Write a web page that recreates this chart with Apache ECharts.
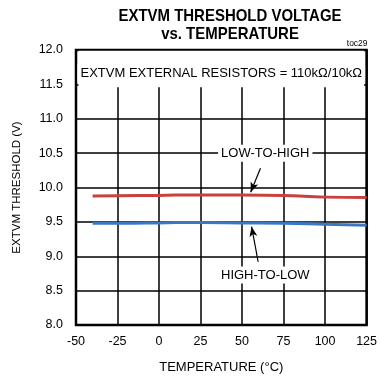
<!DOCTYPE html>
<html><head><meta charset="utf-8">
<script src="https://cdn.jsdelivr.net/npm/echarts@6/dist/echarts.min.js"></script>
<style>html,body{margin:0;padding:0;background:#fff}#c{width:380px;height:381px}</style>
</head><body><div id="c"></div>
<script>
const temps = [-40, -25, 0, 10, 25, 50, 75, 100, 125];
const lowToHigh = [9.875, 9.88, 9.885, 9.89, 9.89, 9.89, 9.885, 9.86, 9.855];
const highToLow = [9.48, 9.48, 9.485, 9.49, 9.49, 9.485, 9.48, 9.465, 9.45];
const xTicks = [-50, -25, 0, 25, 50, 75, 100, 125];
const yTicks = [8.0, 8.5, 9.0, 9.5, 10.0, 10.5, 11.0, 11.5, 12.0];
const titleLines = ['EXTVM THRESHOLD VOLTAGE', 'vs. TEMPERATURE'];

const FONT = '"Liberation Sans", Arial, sans-serif';
const chart = echarts.init(document.getElementById('c'), null, {renderer: 'canvas'});
const pair = (xs, ys) => xs.map((x, i) => [x, ys[i]]);

chart.setOption({
  animation: false,
  grid: {left: 76, right: 9, top: 50, bottom: 56, show: true, borderColor: '#000', borderWidth: 2.5, backgroundColor: 'transparent'},
  xAxis: {
    type: 'value', min: -50, max: 125, interval: 25,
    name: 'TEMPERATURE (°C)', nameLocation: 'middle', nameGap: 36,
    nameTextStyle: {fontFamily: FONT, fontSize: 13, color: '#000'},
    axisLine: {show: false}, axisTick: {show: false},
    axisLabel: {fontFamily: FONT, fontSize: 12.5, color: '#000', margin: 10},
    splitLine: {show: true, lineStyle: {color: '#000', width: 1.5}}
  },
  yAxis: {
    type: 'value', min: 8, max: 12, interval: 0.5,
    name: 'EXTVM THRESHOLD (V)', nameLocation: 'middle', nameGap: 53,
    nameTextStyle: {fontFamily: FONT, fontSize: 11.5, color: '#000'},
    axisLine: {show: false}, axisTick: {show: false},
    axisLabel: {fontFamily: FONT, fontSize: 12.5, color: '#000', margin: 13, formatter: v => v.toFixed(1)},
    splitLine: {show: true, lineStyle: {color: '#000', width: 1.5}}
  },
  series: [
    {
      type: 'line', name: 'LOW-TO-HIGH', data: pair(temps, lowToHigh), smooth: true, showSymbol: false,
      lineStyle: {color: '#c8413f', width: 3}, z: 3,
      markArea: {silent: true, itemStyle: {color: '#fff', opacity: 1}, data: [[{coord: [-48.5, 11.99]}, {coord: [123.5, 11.46]}]]},
      markLine: {silent: true, symbol: ['none', 'arrow'], symbolSize: [6, 10], label: {show: false},
        lineStyle: {color: '#000', width: 1.2, type: 'solid'},
        data: [[{coord: [61.1, 10.28]}, {coord: [55.2, 9.93]}]]}
    },
    {
      type: 'line', name: 'HIGH-TO-LOW', data: pair(temps, highToLow), smooth: true, showSymbol: false,
      lineStyle: {color: '#3d76c2', width: 3}, z: 3,
      markLine: {silent: true, symbol: ['none', 'arrow'], symbolSize: [6, 10], label: {show: false},
        lineStyle: {color: '#000', width: 1.2, type: 'solid'},
        data: [[{coord: [59.7, 8.92]}, {coord: [55.75, 9.43]}]]}
    }
  ]
});

function px(x, y) { return chart.convertToPixel({gridIndex: 0}, [x, y]); }
const pBox = px(37.5, 11.665), pLH = px(64, 10.5), pHL = px(64, 8.727), pToc = px(125, 12);
const lbl = (p, text, size) => ({
  type: 'text', x: p[0], y: p[1], z: 100,
  style: {text, fontFamily: FONT, fontSize: size, fill: '#000', align: 'center', verticalAlign: 'middle',
    backgroundColor: '#fff', padding: [2, 3]}
});
const titleEl = (text, y) => ({
  type: 'text', x: 230, y, z: 100, scaleX: 0.88,
  style: {text, fontFamily: FONT, fontSize: 17, fontWeight: 'bold', fill: '#000', align: 'center', verticalAlign: 'middle'}
});
chart.setOption({
  graphic: [
    titleEl(titleLines[0], 16),
    titleEl(titleLines[1], 34),
    lbl(pBox, 'EXTVM EXTERNAL RESISTORS = 110kΩ/10kΩ', 13),
    lbl(pLH, 'LOW-TO-HIGH', 13),
    lbl(pHL, 'HIGH-TO-LOW', 13),
    {type: 'text', x: pToc[0] + 1, y: pToc[1] - 6, z: 100,
      style: {text: 'toc29', fontFamily: FONT, fontSize: 8.5, fill: '#000', align: 'right', verticalAlign: 'middle'}}
  ]
});
</script></body></html>
